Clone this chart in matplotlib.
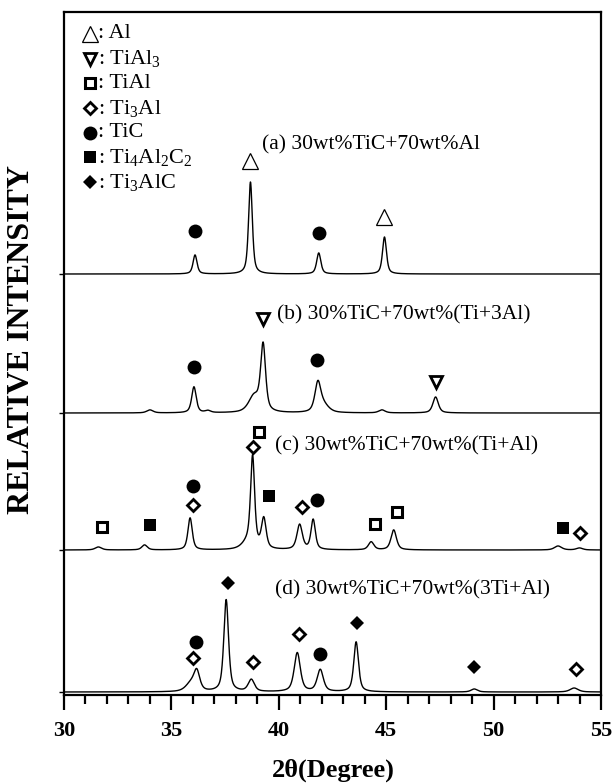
import numpy as np
import matplotlib
matplotlib.use("Agg")
import matplotlib.pyplot as plt

plt.rcParams['font.family'] = ['Liberation Serif', 'DejaVu Serif']
plt.rcParams['mathtext.fontset'] = 'custom'
plt.rcParams['mathtext.rm'] = 'Liberation Serif'
plt.rcParams['mathtext.it'] = 'Liberation Serif:italic'
plt.rcParams['mathtext.bf'] = 'Liberation Serif:bold'

# XRD peaks read for each sample: position (2theta), height, FWHM
a_pos = [36.10, 38.68, 41.86, 44.92]
a_hgt = [19, 92, 21, 37]
a_fwhm = [0.22, 0.21, 0.23, 0.22]

b_pos = [34.0, 36.05, 36.7, 38.85, 39.27, 41.82, 42.10, 44.8, 47.3]
b_hgt = [3, 26, 2, 16, 66, 29, 7, 3, 16]
b_fwhm = [0.35, 0.25, 0.3, 0.6, 0.27, 0.33, 0.55, 0.35, 0.3]

c_pos = [31.6, 33.75, 35.87, 38.6, 38.78, 39.30, 40.97, 41.60, 44.30, 45.35, 53.0, 54.0]
c_hgt = [3, 5, 32, 8, 88, 30, 25, 30, 8, 20, 4, 2]
c_fwhm = [0.35, 0.3, 0.24, 0.65, 0.22, 0.26, 0.3, 0.24, 0.3, 0.3, 0.4, 0.35]

d_pos = [35.9, 36.18, 37.55, 38.72, 40.86, 41.93, 43.60, 49.1, 53.75]
d_hgt = [8, 19, 92, 12, 39, 22, 50, 3, 4]
d_fwhm = [0.55, 0.33, 0.26, 0.34, 0.34, 0.34, 0.26, 0.35, 0.45]

# phase marks above the peaks: phase, 2theta, height of the mark
a_marks = [('TiC', 36.10, 43), ('Al', 38.68, 113), ('TiC', 41.86, 41), ('Al', 44.92, 57)]
b_marks = [('TiC', 36.05, 46), ('TiAl3', 39.27, 94), ('TiC', 41.80, 53), ('TiAl3', 47.30, 31)]
c_marks = [('TiAl', 31.77, 23), ('Ti4Al2C2', 33.98, 25), ('TiC', 36.0, 64),
           ('Ti3Al', 36.0, 45), ('Ti3Al', 38.80, 103), ('TiAl', 39.08, 118),
           ('Ti4Al2C2', 39.55, 54), ('Ti3Al', 41.08, 43), ('TiC', 41.78, 50),
           ('TiAl', 44.48, 26), ('TiAl', 45.50, 38), ('Ti4Al2C2', 53.23, 22),
           ('Ti3Al', 54.02, 17)]
d_marks = [('TiC', 36.15, 50), ('Ti3Al', 36.0, 34), ('Ti3AlC', 37.63, 109),
           ('Ti3Al', 38.80, 30), ('Ti3Al', 40.94, 58), ('TiC', 41.92, 38),
           ('Ti3AlC', 43.64, 69), ('Ti3AlC', 49.09, 25), ('Ti3Al', 53.86, 23)]

sample_labels = ['(a) 30wt%TiC+70wt%Al',
                 '(b) 30%TiC+70wt%(Ti+3Al)',
                 '(c) 30wt%TiC+70wt%(Ti+Al)',
                 '(d) 30wt%TiC+70wt%(3Ti+Al)']

phases = ['Al', 'TiAl3', 'TiAl', 'Ti3Al', 'TiC', 'Ti4Al2C2', 'Ti3AlC']
phase_names = [': Al', ': TiAl$_3$', ': TiAl', ': Ti$_3$Al', ': TiC',
               ': Ti$_4$Al$_2$C$_2$', ': Ti$_3$AlC']

# marker style for each phase
styles = {
    'Al':       dict(marker='^', ms=11, mfc='white', mec='black', mew=0.9),
    'TiAl3':    dict(marker='v', ms=8, mfc='white', mec='black', mew=2.0),
    'TiAl':     dict(marker='s', ms=7.5, mfc='white', mec='black', mew=2.2),
    'Ti3Al':    dict(marker='D', ms=6.5, mfc='white', mec='black', mew=2.0),
    'TiC':      dict(marker='o', ms=10, mfc='black', mec='black', mew=0),
    'Ti4Al2C2': dict(marker='s', ms=9, mfc='black', mec='black', mew=0),
    'Ti3AlC':   dict(marker='D', ms=7.5, mfc='black', mec='black', mew=0),
}


def profile(x, pos, hgt, fwhm, eta=0.6):
    y = np.zeros_like(x)
    for p, h, w in zip(pos, hgt, fwhm):
        d = (x - p) / (w / 2)
        lor = 1.0 / (1.0 + d ** 2)
        gau = np.exp(-np.log(2) * d ** 2)
        y += h * (eta * lor + (1 - eta) * gau)
    return y


fig = plt.figure(figsize=(6.12, 7.84), dpi=100)
ax = fig.add_axes([0.1046, 0.1135, 0.982 - 0.1046, 0.9847 - 0.1135])

theta = np.linspace(30, 55, 3000)
baselines = [421, 282, 145, 3]
label_pos = [(39.22, 550), (39.92, 380), (39.82, 249), (39.82, 105)]

patterns = [(a_pos, a_hgt, a_fwhm, a_marks),
            (b_pos, b_hgt, b_fwhm, b_marks),
            (c_pos, c_hgt, c_fwhm, c_marks),
            (d_pos, d_hgt, d_fwhm, d_marks)]

for (pos, hgt, fwhm, marks), base, lbl, (lx, ly) in zip(patterns, baselines,
                                                       sample_labels, label_pos):
    ax.plot(theta, base + profile(theta, pos, hgt, fwhm), color='black', lw=1.0)
    for ph, t, h in marks:
        ax.plot(t, base + h, ls='none', **styles[ph])
    ax.text(lx, ly, lbl, fontsize=15.5, ha='left', va='center')

# phase key in the upper left corner
for i, (ph, name) in enumerate(zip(phases, phase_names)):
    yk = 1 - (22 + 24.7 * i) / 683
    ax.plot(0.048, yk, transform=ax.transAxes, ls='none', clip_on=False, **styles[ph])
    ax.text(0.064, yk, name, transform=ax.transAxes, fontsize=16, ha='left', va='center')

ax.set_xlim(30, 55)
ax.set_ylim(0, 683)
ax.set_xticks(np.arange(30, 56, 5))
ax.set_xticks(np.arange(30, 56, 1), minor=True)
ax.set_yticks(baselines)
ax.set_yticklabels([])
ax.tick_params(axis='x', which='major', direction='out', length=11, width=1.6,
               labelsize=16, pad=8)
ax.tick_params(axis='x', which='minor', direction='out', length=6.5, width=1.6)
ax.tick_params(axis='y', direction='out', length=3.5, width=1.0)
for lab in ax.get_xticklabels():
    lab.set_fontweight('bold')
for sp in ax.spines.values():
    sp.set_linewidth(1.6)

fig.text(333 / 612, 1 - 770 / 784, '2θ(Degree)', fontsize=19, fontweight='bold',
         ha='center', va='center')
fig.text(22 / 612, 1 - 340 / 784, 'RELATIVE INTENSITY', fontsize=23, fontweight='bold',
         rotation=90, ha='center', va='center')

fig.savefig('out.png', dpi=100)
